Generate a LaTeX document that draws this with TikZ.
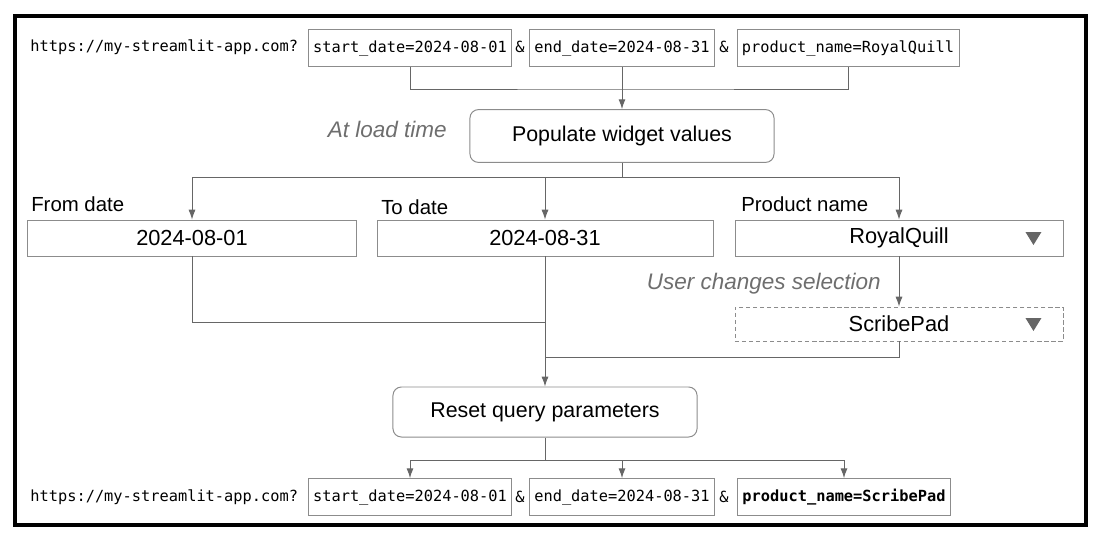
\documentclass[tikz,border=0pt]{standalone}
\usepackage{fontspec}
\setmainfont{Liberation Sans}
\setmonofont{DejaVu Sans Mono}
\usetikzlibrary{arrows.meta}
\definecolor{linegray}{HTML}{666666}
\definecolor{boxgray}{HTML}{8C8C8C}
\definecolor{notegray}{HTML}{6E6E6E}

\begin{document}
\begin{tikzpicture}[x=0.025cm,y=-0.025cm,
  urltext/.style={font=\fontsize{10.9}{13}\ttfamily},
  param/.style={draw=boxgray, line width=0.6pt, urltext, inner xsep=3.5pt, minimum height=0.92cm},
  stepbox/.style={draw=boxgray, line width=0.7pt, rounded corners=6pt, font=\fontsize{15.2}{18}\selectfont},
  widget/.style={draw=boxgray, line width=0.6pt, minimum height=0.9cm, font=\fontsize{15.5}{18}\selectfont},
  caption/.style={font=\fontsize{14.5}{17}\selectfont, anchor=base west, inner sep=0pt},
  note/.style={font=\fontsize{16}{19}\selectfont\itshape, text=notegray, anchor=east, inner sep=0pt},
  link/.style={draw=linegray, line width=0.7pt},
  arr/.style={link, -{Latex[length=7pt,width=5pt]}},
  dropmark/.style={fill=linegray}]
\useasboundingbox (0,0) rectangle (1100,542);
\draw[line width=2.2pt] (15,16) rectangle (1086,525);

\node[urltext, anchor=east] (url1) at (303,47) {https://my-streamlit-app.com?};
\node[param] (s1) at (410,48) {start\_date=2024-08-01};
\node[urltext] at (520,47) {\&};
\node[param] (e1) at (622,48) {end\_date=2024-08-31};
\node[urltext] at (724,47) {\&};
\node[param] (p1) at (848,48) {product\_name=RoyalQuill};

\node[stepbox, minimum width=7.6cm, minimum height=1.32cm] (pop) at (622,136) {Populate widget values};
\node[note] at (447,129) {At load time};

\coordinate (join1) at (622,89);
\draw[link] (s1.south) |- (join1) -| (p1.south);
\draw[arr] (e1.south) -- (pop.north);

\node[caption] at (31,211) {From date};
\node[caption] at (381,214) {To date};
\node[caption] at (741,211) {Product name};
\node[widget, minimum width=8.225cm] (from) at (192,238) {2024-08-01};
\node[widget, minimum width=8.4cm] (to) at (545,238) {2024-08-31};
\node[widget, minimum width=8.2cm] (prod) at (899,238) {RoyalQuill};
\fill[dropmark, shift={(prod.east)}] (-38,-6) -- (-22,-6) -- (-30,7) -- cycle;

\coordinate (fan1) at (622,177);
\draw[link] (pop.south) -- (fan1);
\draw[arr] (fan1) -| (from.north);
\draw[arr] (fan1) -| (to.north);
\draw[arr] (fan1) -| (prod.north);

\node[note] at (881,284) {User changes selection};
\node[widget, dashed, dash pattern=on 3pt off 2pt, minimum width=8.2cm, minimum height=0.85cm] (scribe) at (899,324) {ScribePad};
\fill[dropmark, shift={(scribe.east)}] (-38,-6) -- (-22,-6) -- (-30,7) -- cycle;
\draw[arr] (prod.south) -- (scribe.north);

\node[stepbox, minimum width=7.6cm, minimum height=1.25cm] (reset) at (545,412) {Reset query parameters};
\coordinate (join2) at (545,322);
\coordinate (join3) at (545,357);
\draw[link] (from.south) |- (join2);
\draw[link] (scribe.south) |- (join3);
\draw[arr] (to.south) -- (reset.north);

\node[urltext, anchor=east] (url2) at (303,497) {https://my-streamlit-app.com?};
\node[param] (s2) at (410,497) {start\_date=2024-08-01};
\node[urltext] at (520,497) {\&};
\node[param] (e2) at (622,497) {end\_date=2024-08-31};
\node[urltext] at (724,497) {\&};
\node[param, font=\fontsize{10.9}{13}\ttfamily\bfseries] (p2) at (844,497) {product\_name=ScribePad};

\coordinate (fan2) at (545,460);
\draw[link] (reset.south) -- (fan2);
\draw[arr] (fan2) -| (s2.north);
\draw[arr] (fan2) -| (e2.north);
\draw[arr] (fan2) -| (p2.north);
\end{tikzpicture}
\end{document}
